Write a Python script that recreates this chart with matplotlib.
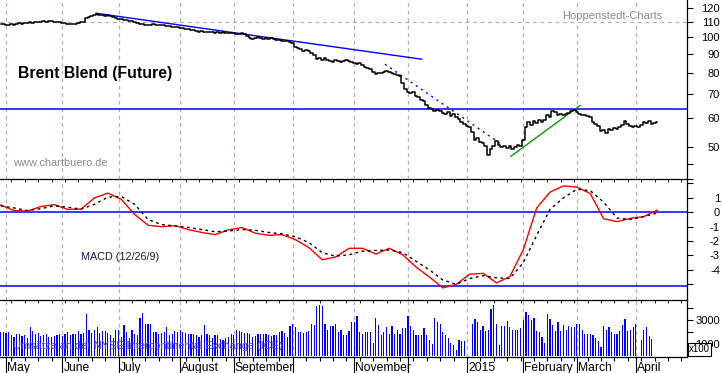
import matplotlib
matplotlib.use("Agg")
import matplotlib.pyplot as plt
import numpy as np
from matplotlib.ticker import NullFormatter

plt.rcParams['font.family'] = ['Liberation Sans', 'DejaVu Sans']

# Brent Blend (Future), trading days counted from 1 May 2014
first_day = -2
close = [
    108.9, 108.6, 108.3, 108.0, 108.5, 108.2, 108.6, 109.2, 108.9, 109.4, 109.6, 109.9,
    109.7, 110.1, 110.0, 110.4, 110.6, 110.3, 110.7, 110.5, 110.2, 110.4,
    110.0, 109.6, 109.2, 108.9, 108.6, 108.4, 108.8, 109.3, 109.8, 110.3,
    112.9, 113.6, 114.2, 114.8, 115.6, 115.3, 115.0, 114.6, 114.8, 114.1,
    113.4, 113.0, 112.4, 112.3, 111.7, 111.2, 110.9, 110.5, 110.1, 109.6,
    108.9, 108.6, 108.2, 107.7, 108.3, 108.6, 108.1, 107.8, 108.2, 108.0,
    107.5, 107.0, 106.8, 106.5, 106.9, 106.2, 105.9, 105.4, 105.0, 104.8,
    104.5, 103.9, 103.6, 104.0, 103.4, 103.1, 103.6, 103.3, 102.9, 103.2,
    102.8, 103.1, 102.6, 102.9, 102.4, 102.7, 102.2, 102.0, 102.5, 101.8,
    100.6, 99.6, 98.9, 99.4, 99.9, 99.6, 99.2, 99.5, 98.9, 99.3,
    98.7, 98.5, 98.2, 97.8, 97.5, 97.8, 97.1, 96.5, 94.2, 93.5,
    92.6, 92.0, 92.4, 91.5, 90.8, 89.2, 87.4, 88.0, 86.6, 87.5,
    86.9, 86.2, 85.8, 86.7, 86.0, 85.4, 86.3, 86.8, 85.9, 85.5,
    85.1, 84.6, 84.9, 83.8, 83.0, 82.6, 82.0, 80.4, 79.3, 79.8,
    80.1, 80.6, 80.9, 80.5, 79.8, 79.4, 78.9, 78.6, 75.2, 72.4,
    71.0, 70.4, 70.9, 69.2, 68.5, 67.6, 66.9, 65.4, 63.9, 63.5,
    62.9, 63.3, 62.7, 62.2, 61.8, 62.6, 61.1, 61.6, 60.4, 59.8,
    58.5, 58.0, 57.4, 56.8, 55.2, 52.5, 53.2, 51.9, 51.4, 50.6,
    47.8, 49.6, 50.6, 52.1, 50.8, 50.2, 50.5, 49.9, 50.3, 49.6,
    50.2, 50.7, 50.4, 52.3, 56.9, 58.6, 57.6, 59.1, 58.4, 59.3,
    58.7, 59.6, 61.2, 60.5, 62.9, 62.3, 61.4, 61.8, 61.2, 61.9,
    62.2, 62.8, 63.2, 62.5, 61.7, 61.2, 61.5, 60.9, 60.6, 58.6,
    58.0, 57.2, 55.6, 55.9, 54.9, 56.3, 55.8, 56.6, 56.1, 57.0,
    57.6, 59.2, 58.1, 57.3, 56.8, 57.2, 56.7, 57.5, 58.8, 58.4,
    59.0, 57.9, 58.2, 58.6,
]

# Umsaetze (x100)
volume = [
    2000, 2000, 1900, 2000, 1700, 1600, 1800, 1800, 1650, 1700, 1500, 2400,
    2100, 1800, 1900, 1650, 1700, 1800, 1600, 1550, 1650, 1700,
    1800, 1650, 1800, 2000, 1700, 1800, 1800, 2100, 1800, 1900,
    3500, 2200, 1900, 2200, 2400, 1900, 2100, 2100, 1900, 1700,
    1500, 2150, 2150, 1600, 2550, 2000, 1500, 2150, 1800, 1700,
    3200, 3600, 2700, 2700, 2700, 2000, 2000, 1800, 1900, 2000,
    2400, 1700, 1800, 2100, 2000, 2150, 2000, 1900, 1800, 1800,
    1800, 1700, 1600, 1700, 2600, 1800, 1700, 1500, 1700, 1700,
    1400, 1300, 1500, 1600, 1800, 1700, 2200, 2100, 2000, 1900,
    1900, 1800, 1600, 1650, 1800, 1800, 1800, 1800, 1750, 1650,
    1700, 1750, 2000, 2100, 1900, 1600, 2500, 2650, 2400, 2000,
    2000, 1900, 2000, 2100, 2700, 2550, 4150, 4250, 4200, 2700,
    2200, 2500, 2500, 2700, 2000, 2150, 1750, 1750, 2100, 2800,
    2800, 3300, 2000, 1800, 2000, 2000, 2000, 1100, 3200, 2600,
    1700, 2000, 2400, 1800, 2500, 1800, 2150, 1800, 2350, 2350,
    3300, 2500, 2150, 1750, 1750, 1750, 2350, 1750, 1350, 1000,
    3200, 2800, 2700, 2000, 1750, 1450, 1100, 900, 450, 1350,
    1250, 1250, 0, 0, 2700, 3100, 2800, 2200, 2500, 2100,
    2200, 3900, 4250, 2700, 900, 2500, 2500, 2900, 2400, 2200,
    2200, 2150, 2300, 3000, 3700, 3400, 3000, 3200, 2100, 2000,
    1600, 1100, 3500, 3100, 2600, 2100, 2800, 2100, 2600, 2150,
    2500, 2400, 2400, 2650, 2650, 2200, 1800, 1800, 1800, 1750,
    1450, 1250, 750, 2500, 2150, 2400, 2000, 1800, 1800, 2100,
    2600, 3100, 2100, 2200, 2400, 2650, 0, 1300, 2200, 2400,
    1650, 1400,
]

# MACD (12/26/9), one reading every 5 trading days
macd_step = 5
macd = [
    0.5, 0.12, 0.08, 0.4, 0.53, 0.2, 0.22, 1.0, 1.33, 0.9,
    -0.15, -0.9, -1.0, -0.93, -1.2, -1.4, -1.55, -1.22, -1.06, -1.45,
    -1.6, -1.55, -1.9, -2.45, -3.3, -3.1, -2.5, -2.5, -2.9, -2.5,
    -2.95, -3.8, -4.5, -5.25, -5.0, -4.3, -4.24, -4.9, -4.47, -2.6,
    0.3, 1.4, 1.83, 1.75, 1.3, -0.45, -0.65, -0.42, -0.3, 0.15,
]
signal = [
    0.45, 0.3, 0.12, 0.25, 0.45, 0.35, 0.22, 0.55, 1.05, 1.1,
    0.55, -0.5, -0.85, -0.95, -1.05, -1.2, -1.35, -1.3, -1.2, -1.25,
    -1.4, -1.5, -1.7, -2.1, -2.8, -3.05, -2.95, -2.7, -2.65, -2.62,
    -2.8, -3.4, -4.0, -4.7, -5.0, -4.6, -4.4, -4.55, -4.6, -3.5,
    -1.6, 0.2, 1.0, 1.6, 1.5, 0.7, -0.4, -0.5, -0.3, -0.05,
]

month_days = [0, 21, 42, 65, 85, 107, 130, 150, 172, 193, 213, 235]
month_labels = ['May', 'June', 'July', 'August', 'September', '', 'November', '',
                '2015', 'February', 'March', 'April']

price_ticks = [50, 60, 70, 80, 90, 100, 110, 120]
macd_ticks = [1, 0, -1, -2, -3, -4]
vol_ticks = [1000, 3000]
resistance = 63.8
downtrend_days, downtrend_vals = [33.6, 155.1], [116.3, 87.1]
channel_days, channel_vals = [141.4, 185.4], [84.4, 50.7]
uptrend_days, uptrend_vals = [188.4, 214.2], [47.3, 65.1]
macd_levels = [0, -5.1]

days = np.arange(first_day, first_day + len(close))
vol_days = days[:len(volume)]
macd_days = first_day + macd_step * np.arange(len(macd))

W, H = 723, 373
grid_kw = dict(color='#bba9bb', linestyle=(0, (3, 3)), linewidth=0.9)


def box(top, bottom):
    return [0, 1 - bottom / H, 687 / W, (bottom - top) / H]


fig = plt.figure(figsize=(W / 100, H / 100), dpi=100, facecolor='white')
ax_p = fig.add_axes(box(0, 179))
ax_m = fig.add_axes(box(179, 300), sharex=ax_p)
ax_v = fig.add_axes(box(300, 356.5), sharex=ax_p)

for ax in (ax_p, ax_m, ax_v):
    ax.patch.set_visible(False)
    ax.spines['left'].set_visible(False)
    ax.spines['top'].set_visible(False)
    for s in ('right', 'bottom'):
        ax.spines[s].set_color('black')
        ax.spines[s].set_linewidth(0.9)
        ax.spines[s].set_zorder(4)
    ax.yaxis.tick_right()
    ax.tick_params(axis='y', which='both', direction='out', length=4.3, width=0.8,
                   pad=19.4, labelsize=8, colors='black')
    ax.set_xticks(month_days)
    ax.grid(axis='x', **grid_kw)

ax_p.set_xlim(-2.24, 254.1)

# price panel
ax_p.set_yscale('log')
ax_p.plot(days, close, color='black', lw=1.1, drawstyle='steps-mid', zorder=3)
ax_p.axhline(110, **grid_kw)
ax_p.axhline(resistance, color='#0000ff', lw=1.1)
ax_p.plot(downtrend_days, downtrend_vals, color='#0000ff', lw=1.0)
ax_p.plot(channel_days, channel_vals, color='#0000ff', lw=1.0, linestyle=(0, (1.5, 3)))
ax_p.plot(uptrend_days, uptrend_vals, color='#00a000', lw=1.0)
ax_p.set_ylim(41.1, 126.4)
ax_p.set_yticks(price_ticks)
ax_p.set_yticklabels([str(t) for t in price_ticks])
ax_p.set_yticks([41, 45], minor=True)
ax_p.yaxis.set_minor_formatter(NullFormatter())
ax_p.tick_params(axis='x', length=0, labelbottom=False)

fig.text(18 / W, 1 - 73.5 / H, 'Brent Blend (Future)', fontsize=11.4, fontweight='bold',
         va='center', ha='left', color='black')
fig.text(13 / W, 1 - 163 / H, 'www.chartbuero.de', fontsize=7.9, color='#8a8a8a',
         va='center', ha='left')
fig.text(612 / W, 1 - 16 / H, 'Hoppenstedt-Charts', fontsize=8, color='#8a8a8a',
         va='center', ha='center',
         bbox=dict(facecolor='white', edgecolor='none', pad=1))

# MACD panel
ax_m.plot(macd_days, macd, color='#ff0000', lw=1.0, zorder=3)
ax_m.plot(macd_days, signal, color='black', lw=1.0, linestyle=(0, (2, 2.5)), zorder=3)
for lvl in macd_levels:
    ax_m.axhline(lvl, color='#0000ff', lw=1.1)
ax_m.set_ylim(-6.09, 2.31)
ax_m.set_yticks(macd_ticks)
ax_m.set_yticklabels([str(t) for t in macd_ticks])
ax_m.set_yticks([2, -5], minor=True)
ax_m.yaxis.set_minor_formatter(NullFormatter())
ax_m.tick_params(axis='x', length=0, labelbottom=False)
fig.text(81 / W, 1 - 257 / H, 'MACD (12/26/9)', fontsize=7.8, color='#1a1a4a',
         va='center', ha='left')

# volume panel
ax_v.bar(vol_days, volume, width=0.45, color='#0000ff', linewidth=0, zorder=2)
ax_v.set_ylim(-60, 4670)
ax_v.set_yticks(vol_ticks)
ax_v.set_yticklabels([str(t) for t in vol_ticks])
ax_v.set_yticks([2000, 4000], minor=True)
ax_v.yaxis.set_minor_formatter(NullFormatter())
ax_v.set_xticks(np.arange(2, 254, 5), minor=True)
ax_v.tick_params(axis='x', which='major', direction='out', length=12.8, width=0.8,
                 labelbottom=False)
ax_v.tick_params(axis='x', which='minor', direction='out', length=3, width=0.8)
fig.text(13 / W, 1 - 346 / H, 'Umsätze an der NYSE Intercontinental Exchange (ICE)',
         fontsize=7.9, color='#4a3cff', va='center', ha='left', zorder=5)
fig.text(689 / W, 1 - 349.5 / H, 'x100', fontsize=7, color='black', va='center',
         ha='left', zorder=6,
         bbox=dict(facecolor='white', edgecolor='black', linewidth=0.8, pad=0.8))

for d, lab in zip(month_days, month_labels):
    if lab:
        ax_v.text(d + 0.4, -0.1, lab, transform=ax_v.get_xaxis_transform(), ha='left',
                  va='top', fontsize=8.7, color='black')

# right-hand labels end at the image edge
for ax in (ax_p, ax_m, ax_v):
    for tick in ax.yaxis.get_major_ticks():
        tick.label2.set_horizontalalignment('right')

fig.savefig('out.png', dpi=100)
